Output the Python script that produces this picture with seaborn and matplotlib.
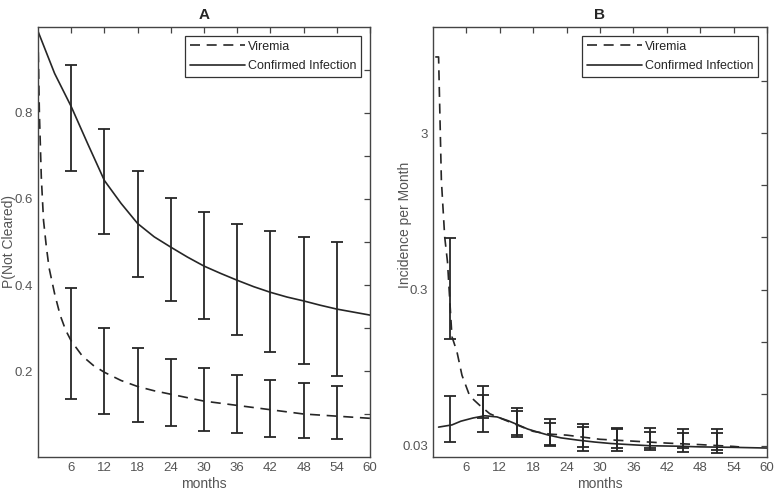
import numpy as np
import matplotlib
matplotlib.use("Agg")
import matplotlib.pyplot as plt
from matplotlib.ticker import FixedLocator, NullFormatter
import seaborn as sns

# ── Panel A: probability of not having cleared ─────────────────
a_vir_months = [0, 0.25, 0.6, 1, 1.5, 2, 3, 4, 5, 6, 8, 10, 12, 15, 18, 21,
                24, 30, 36, 42, 48, 54, 60]
a_vir_p = [0.98, 0.80, 0.65, 0.55, 0.49, 0.44, 0.38, 0.33, 0.295, 0.27, 0.235,
           0.213, 0.197, 0.178, 0.164, 0.154, 0.146, 0.130, 0.120, 0.110,
           0.100, 0.095, 0.090]
a_conf_months = [0, 3, 6, 9, 12, 15, 18, 21, 24, 27, 30, 33, 36, 39, 42, 45,
                 48, 51, 54, 57, 60]
a_conf_p = [0.99, 0.892, 0.815, 0.728, 0.643, 0.59, 0.543, 0.512, 0.488,
            0.465, 0.444, 0.427, 0.411, 0.396, 0.383, 0.372, 0.363, 0.353,
            0.344, 0.337, 0.330]

a_bar_months = [6, 12, 18, 24, 30, 36, 42, 48, 54]
a_vir_lo = [0.134, 0.100, 0.081, 0.072, 0.060, 0.055, 0.046, 0.044, 0.041]
a_vir_hi = [0.393, 0.299, 0.253, 0.227, 0.206, 0.190, 0.178, 0.173, 0.164]
a_conf_lo = [0.664, 0.518, 0.418, 0.363, 0.321, 0.284, 0.245, 0.217, 0.189]
a_conf_hi = [0.911, 0.763, 0.666, 0.603, 0.569, 0.543, 0.525, 0.511, 0.500]

# ── Panel B: incidence per month (log scale) ───────────────────
b_vir_months = [0.4, 1.0, 1.5, 2.1, 2.6, 3.4, 4.3, 5.2, 6.6, 8.4, 10.2, 12,
                15, 18, 21, 24, 30, 36, 42, 48, 54, 55]
b_vir_inc = [9.2, 9.2, 1.5, 0.65, 0.45, 0.15, 0.12, 0.085, 0.0625, 0.0545,
             0.0482, 0.0453, 0.041, 0.0372, 0.0357, 0.0352, 0.0331, 0.0322,
             0.0313, 0.0306, 0.0298, 0.0296]
b_conf_months = [1, 3.4, 5, 7.2, 9.3, 11.5, 13.5, 15.3, 17, 18.7, 20.6, 23,
                 26, 29, 32, 36, 39, 44, 48, 54, 60]
b_conf_inc = [0.0396, 0.0409, 0.0432, 0.0453, 0.0468, 0.046, 0.0435, 0.0409,
              0.0385, 0.0369, 0.0353, 0.0338, 0.0327, 0.0318, 0.0311, 0.0305,
              0.0301, 0.0299, 0.0296, 0.0294, 0.0291]

b_bar_months = [3, 9, 15, 21, 27, 33, 39, 45, 51]
b_vir_lo = [0.145, 0.0453, 0.0353, 0.0304, 0.0296, 0.0291, 0.0291, 0.0291, 0.0283]
b_vir_hi = [0.64, 0.0725, 0.0525, 0.0446, 0.0415, 0.0391, 0.0391, 0.0385, 0.0385]
b_conf_lo = [0.0318, 0.0369, 0.0343, 0.0298, 0.0279, 0.0277, 0.0283, 0.0275, 0.0271]
b_conf_hi = [0.0625, 0.0635, 0.0502, 0.0421, 0.0397, 0.0385, 0.0369, 0.0363, 0.0363]

month_ticks = [6, 12, 18, 24, 30, 36, 42, 48, 54, 60]

LINE = "#262626"
TEXT = "#555555"

sns.set_style("white")
plt.rcParams["font.family"] = ["Liberation Sans", "DejaVu Sans"]

fig = plt.figure(figsize=(7.77, 4.96), dpi=100)
ax_a = fig.add_axes([0.0489, 0.0786, 0.4273, 0.867])
ax_b = fig.add_axes([0.5573, 0.0786, 0.4298, 0.867])


def add_errorbars(ax, months, lo, hi, geo=False):
    lo = np.array(lo)
    hi = np.array(hi)
    mid = np.sqrt(lo * hi) if geo else (lo + hi) / 2
    ax.errorbar(months, mid, yerr=[mid - lo, hi - mid], fmt="none",
                ecolor=LINE, elinewidth=1.3, capsize=4, capthick=1.3)


def style_axes(ax):
    for sp in ax.spines.values():
        sp.set_color("#444444")
        sp.set_linewidth(1.0)
    ax.tick_params(which="both", direction="in", top=True, right=True,
                   length=4, width=0.9, color="#444444",
                   labelsize=9.5, labelcolor=TEXT)
    ax.set_xlim(0, 60)
    ax.set_xticks(month_ticks)
    ax.set_xlabel("months", fontsize=10, color=TEXT, labelpad=2)
    leg = ax.legend(loc="upper right", fontsize=9, handlelength=4.4,
                    frameon=True, fancybox=False, framealpha=1,
                    edgecolor="#333333", borderaxespad=0.7,
                    handletextpad=0.2, labelspacing=0.6)
    leg.get_frame().set_linewidth(0.9)


# ── Panel A ───────────────────────────────────────────────────
sns.lineplot(x=a_vir_months, y=a_vir_p, ax=ax_a, color=LINE, lw=1.2,
             linestyle=(0, (6, 4)), label="Viremia")
sns.lineplot(x=a_conf_months, y=a_conf_p, ax=ax_a, color=LINE, lw=1.2,
             label="Confirmed Infection")
add_errorbars(ax_a, a_bar_months, a_vir_lo, a_vir_hi)
add_errorbars(ax_a, a_bar_months, a_conf_lo, a_conf_hi)
ax_a.set_ylim(0, 1)
ax_a.set_yticks([0.2, 0.4, 0.6, 0.8])
ax_a.set_yticklabels(["0.2", "0.4", "0.6", "0.8"])
ax_a.yaxis.set_minor_locator(FixedLocator([0.1, 0.3, 0.5, 0.7, 0.9]))
ax_a.set_ylabel("P(Not Cleared)", fontsize=10, color=TEXT)
ax_a.yaxis.set_label_coords(-0.066, 0.5)
ax_a.set_title("A", fontsize=11, fontweight="bold", pad=6)
style_axes(ax_a)

# ── Panel B ───────────────────────────────────────────────────
sns.lineplot(x=b_vir_months, y=b_vir_inc, ax=ax_b, color=LINE, lw=1.2,
             linestyle=(0, (6, 4)), label="Viremia")
sns.lineplot(x=b_conf_months, y=b_conf_inc, ax=ax_b, color=LINE, lw=1.2,
             label="Confirmed Infection")
add_errorbars(ax_b, b_bar_months, b_vir_lo, b_vir_hi, geo=True)
add_errorbars(ax_b, b_bar_months, b_conf_lo, b_conf_hi, geo=True)
ax_b.set_yscale("log")
ax_b.set_ylim(0.0255, 14.3)
ax_b.yaxis.set_major_locator(FixedLocator([0.03, 0.3, 3]))
ax_b.set_yticklabels(["0.03", "0.3", "3"])
ax_b.yaxis.set_minor_locator(FixedLocator(
    [0.03 * 10 ** (k / 3) for k in (1, 2, 4, 5, 7)]))
ax_b.yaxis.set_minor_formatter(NullFormatter())
ax_b.set_ylabel("Incidence per Month", fontsize=10, color=TEXT)
ax_b.yaxis.set_label_coords(-0.062, 0.54)
ax_b.set_title("B", fontsize=11, fontweight="bold", pad=6)
style_axes(ax_b)

fig.savefig("out.png", dpi=100)
